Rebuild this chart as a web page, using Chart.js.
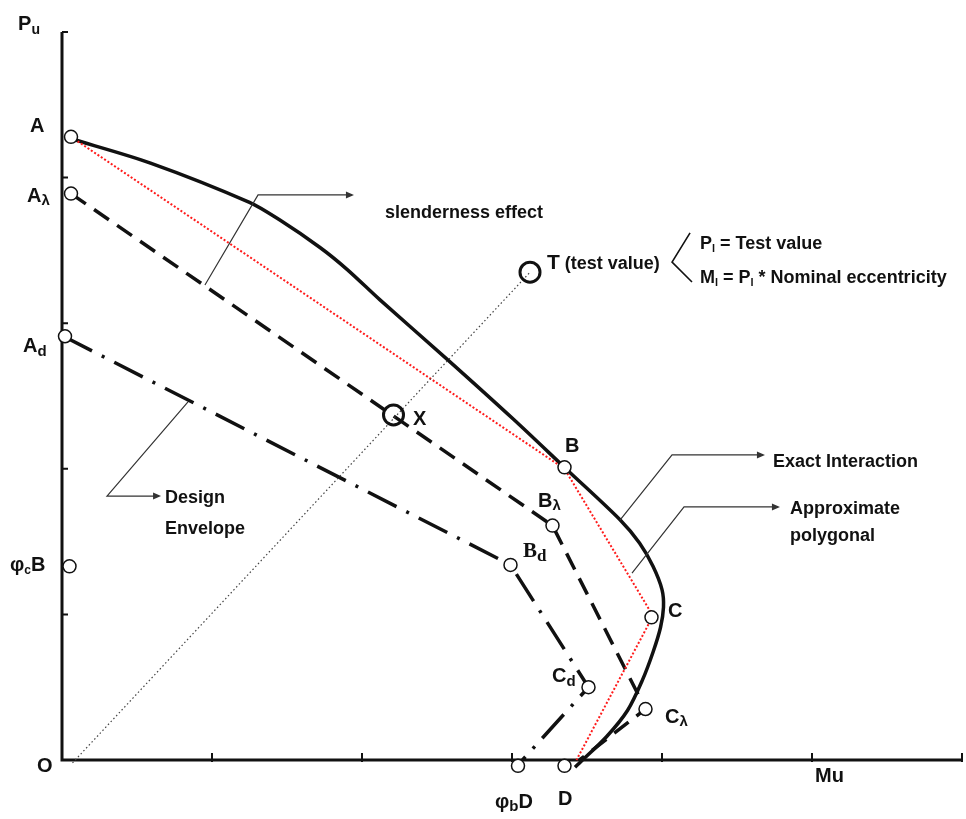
<!DOCTYPE html>
<html>
<head>
<meta charset="utf-8">
<script src="https://cdn.jsdelivr.net/npm/chart.js@4/dist/chart.umd.min.js"></script>
<style>
  html, body { margin: 0; padding: 0; background: #fff; }
  #wrap { width: 966px; height: 819px; position: relative; }
</style>
</head>
<body>
<div id="wrap"><canvas id="chart"></canvas></div>
<script>
// axis ticks (unitless M and P)
const M_TICKS = [0, 1, 2, 3, 4, 5, 6]
const P_TICKS = [0, 1, 2, 3, 4, 5]

// exact interaction curve
const exactM = [0.05, 0.59, 1.25, 1.45, 1.72, 1.90, 2.12, 2.57, 3.01, 3.37, 3.72, 3.85, 3.94, 4.00, 4.01, 3.99, 3.94, 3.87, 3.77, 3.63, 3.45, 3.42]
const exactP = [4.27, 4.10, 3.83, 3.71, 3.52, 3.37, 3.16, 2.75, 2.34, 1.99, 1.65, 1.49, 1.33, 1.17, 1.05, 0.91, 0.74, 0.55, 0.34, 0.16, -0.02, -0.05]

// approximate polygonal A-B-C-D
const polyM = [0.06, 3.35, 3.94, 3.43]
const polyP = [4.28, 2.00, 0.99, 0.00]

// slenderness envelope Aλ-Bλ-Cλ-D
const slenderM = [0.06, 3.27, 3.89, 3.45]
const slenderP = [3.89, 1.61, 0.35, 0.00]

// design envelope Ad-Bd-Cd-φbD
const designM = [0.01, 2.99, 3.51, 3.07]
const designP = [2.91, 1.34, 0.50, 0.00]

// test line O-T
const testM = [0.07, 3.12]
const testP = [-0.02, 3.35]

// named points
const pointNames = [`A`, `Aλ`, `Ad`, `φcB`, `B`, `Bλ`, `Bd`, `C`, `Cλ`, `Cd`, `φbD`, `D`]
const pointM = [0.06, 0.06, 0.02, 0.05, 3.35, 3.27, 2.99, 3.93, 3.89, 3.51, 3.04, 3.35]
const pointP = [4.28, 3.89, 2.91, 1.33, 2.01, 1.61, 1.34, 0.98, 0.35, 0.50, -0.04, -0.04]

const checkNames = [`T`, `X`]
const checkM = [3.12, 2.21]
const checkP = [3.35, 2.37]

const toXY = (xs, ys) => xs.map((x, i) => ({ x, y: ys[i] }))

const INK = `#111`
const SANS = `"Liberation Sans", Arial, sans-serif`
const SERIF = `"Liberation Serif", "Times New Roman", serif`

// [text, size, baseline shift, family]
const labels = [
  { at: [-0.293, 5.062], parts: [[`P`, 20], [`u`, 14, 4]] },
  { at: [-0.213, 4.361], parts: [[`A`, 20]] },
  { at: [-0.233, 3.880], parts: [[`A`, 20], [`λ`, 15, 3]] },
  { at: [-0.260, 2.850], parts: [[`A`, 20], [`d`, 15, 4]] },
  { at: [-0.347, 1.346], parts: [[`φ`, 20], [`c`, 12, 3], [`B`, 20]] },
  { at: [-0.167, -0.034], parts: [[`O`, 20]] },
  { at: [3.353, 2.163], parts: [[`B`, 20]] },
  { at: [3.173, 1.786], parts: [[`B`, 20], [`λ`, 15, 3]] },
  { at: [3.073, 1.449], parts: [[`B`, 21, 0, SERIF], [`d`, 17, 4, SERIF]] },
  { at: [4.040, 1.030], parts: [[`C`, 20]] },
  { at: [3.267, 0.584], parts: [[`C`, 20], [`d`, 15, 4]] },
  { at: [4.020, 0.302], parts: [[`C`, 20], [`λ`, 15, 3]] },
  { at: [2.887, -0.282], parts: [[`φ`, 20], [`b`, 15, 3], [`D`, 20]] },
  { at: [3.307, -0.261], parts: [[`D`, 20]] },
  { at: [5.020, -0.103], parts: [[`Mu`, 20]] },
  { at: [2.340, 2.349], parts: [[`X`, 20]] },
  { at: [3.233, 3.427], parts: [[`T`, 21], [` (test value)`, 18]] },
  { at: [4.253, 3.551], parts: [[`P`, 18], [`l`, 11, 3], [` = Test value`, 18]] },
  { at: [4.253, 3.324], parts: [[`M`, 18], [`l`, 11, 3], [` = P`, 18], [`l`, 11, 3], [` * Nominal eccentricity`, 18]] },
  { at: [2.153, 3.764], parts: [[`slenderness effect`, 18]] },
  { at: [4.740, 2.060], parts: [[`Exact Interaction`, 18]] },
  { at: [4.853, 1.731], parts: [[`Approximate`, 18]] },
  { at: [4.853, 1.552], parts: [[`polygonal`, 18]] },
  { at: [0.687, 1.813], parts: [[`Design`, 18]] },
  { at: [0.687, 1.600], parts: [[`Envelope`, 18]] }
]

// leader lines, arrow at the last point
const leaders = [
  [[0.953, 3.262], [1.307, 3.881], [1.933, 3.881]],
  [[0.840, 2.459], [0.300, 1.813], [0.647, 1.813]],
  [[3.720, 1.648], [4.067, 2.095], [4.673, 2.095]],
  [[3.800, 1.284], [4.147, 1.738], [4.773, 1.738]]
]
const bracket = [[4.187, 3.620], [4.067, 3.420], [4.200, 3.283]]

const drawRich = (ctx, px, py, parts) => {
  let x = px
  const base = py + 0.36 * parts[0][1]
  ctx.textBaseline = `alphabetic`
  ctx.textAlign = `left`
  parts.forEach(([ t, size, dy = 0, family = SANS ]) => {
    ctx.font = `bold ${size}px ${family}`
    ctx.fillText(t, x, base + dy)
    x += ctx.measureText(t).width
  })
}

const axesPlugin = {
  id: `axes`,
  beforeDatasetsDraw(chart) {
    const { ctx, scales: { x, y } } = chart
    const x0 = x.getPixelForValue(0)
    const y0 = y.getPixelForValue(0)
    ctx.save()
    ctx.strokeStyle = INK
    ctx.lineWidth = 3
    ctx.beginPath()
    ctx.moveTo(x0, y.getPixelForValue(P_TICKS[P_TICKS.length - 1]))
    ctx.lineTo(x0, y0)
    ctx.lineTo(x.getPixelForValue(M_TICKS[M_TICKS.length - 1]), y0)
    ctx.stroke()
    ctx.lineWidth = 2
    ctx.beginPath()
    P_TICKS.slice(1).forEach(v => {
      const py = y.getPixelForValue(v)
      ctx.moveTo(x0, py)
      ctx.lineTo(x0 + 6, py)
    })
    M_TICKS.slice(1).forEach(v => {
      const px = x.getPixelForValue(v)
      ctx.moveTo(px, y0 + 2)
      ctx.lineTo(px, y0 - 7)
    })
    ctx.stroke()
    ctx.restore()
  }
}

const notesPlugin = {
  id: `notes`,
  afterDatasetsDraw(chart) {
    const { ctx, scales: { x, y } } = chart
    const px = ([ m, p ]) => [ x.getPixelForValue(m), y.getPixelForValue(p) ]
    ctx.save()
    ctx.strokeStyle = `#333`
    ctx.fillStyle = `#333`
    ctx.lineWidth = 1.2
    leaders.forEach(line => {
      const pts = line.map(px)
      ctx.beginPath()
      pts.forEach(([ a, b ], i) => i ? ctx.lineTo(a, b) : ctx.moveTo(a, b))
      ctx.stroke()
      const [ ex, ey ] = pts[pts.length - 1]
      ctx.beginPath()
      ctx.moveTo(ex + 2, ey)
      ctx.lineTo(ex - 6, ey - 3.5)
      ctx.lineTo(ex - 6, ey + 3.5)
      ctx.closePath()
      ctx.fill()
    })
    ctx.strokeStyle = INK
    ctx.lineWidth = 1.6
    ctx.beginPath()
    bracket.map(px).forEach(([ a, b ], i) => i ? ctx.lineTo(a, b) : ctx.moveTo(a, b))
    ctx.stroke()
    ctx.fillStyle = INK
    labels.forEach(({ at, parts }) => {
      const [ a, b ] = px(at)
      drawRich(ctx, a, b, parts)
    })
    ctx.restore()
  }
}

const lineSet = (xs, ys, style) => Object.assign({
  data: toXY(xs, ys),
  showLine: true,
  pointRadius: 0,
  borderColor: INK,
  borderWidth: 3.5,
  fill: false,
  clip: false
}, style)

new Chart(document.getElementById(`chart`), {
  type: `scatter`,
  data: {
    datasets: [
      {
        label: `points`,
        data: toXY(pointM, pointP),
        pointRadius: 6.5,
        pointBackgroundColor: `#fff`,
        pointBorderColor: INK,
        pointBorderWidth: 1.5,
        clip: false
      },
      {
        label: `check`,
        data: toXY(checkM, checkP),
        pointRadius: 10,
        pointBackgroundColor: `rgba(255,255,255,0)`,
        pointBorderColor: INK,
        pointBorderWidth: 3,
        clip: false
      },
      lineSet(testM, testP, { label: `test`, borderColor: `#444`, borderWidth: 1.2, borderDash: [1.5, 2.5] }),
      lineSet(polyM, polyP, { label: `Approximate polygonal`, borderColor: `#ff1a1a`, borderWidth: 2, borderDash: [2, 2] }),
      lineSet(designM, designP, { label: `Design Envelope`, borderDash: [32, 11, 3, 11] }),
      lineSet(slenderM, slenderP, { label: `slenderness`, borderDash: [18, 10] }),
      lineSet(exactM, exactP, { label: `Exact Interaction`, tension: 0.3 })
    ]
  },
  options: {
    responsive: true,
    maintainAspectRatio: false,
    animation: false,
    events: [],
    layout: { autoPadding: false, padding: { left: 62, top: 32, right: 4, bottom: 59 } },
    scales: {
      x: { type: `linear`, min: 0, max: 6, display: false },
      y: { type: `linear`, min: 0, max: 5, display: false }
    },
    plugins: {
      legend: { display: false },
      tooltip: { enabled: false }
    }
  },
  plugins: [ axesPlugin, notesPlugin ]
})
</script>
</body>
</html>
